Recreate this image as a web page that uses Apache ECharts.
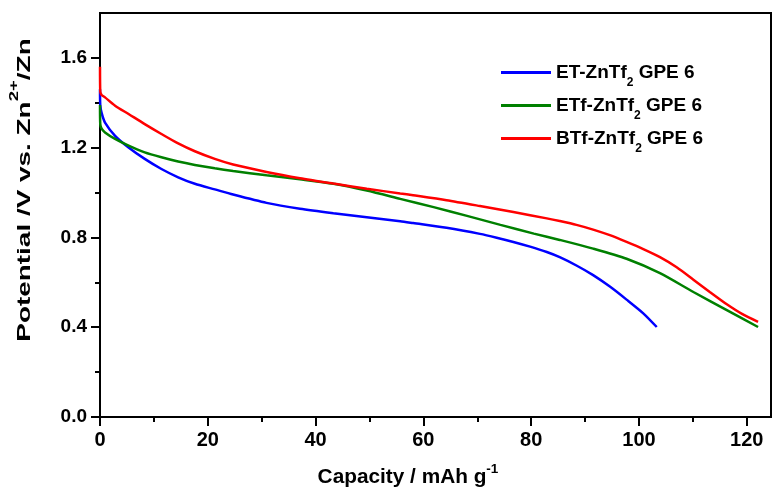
<!DOCTYPE html>
<html><head><meta charset="utf-8">
<script src="https://cdn.jsdelivr.net/npm/echarts@6/dist/echarts.min.js"></script>
<style>html,body{margin:0;padding:0;background:#fff}#c{width:780px;height:498px}</style>
</head><body><div id="c"></div>
<script>
// ---- data ----
const xMajorTicks = [0, 20, 40, 60, 80, 100, 120];
const xMinorTicks = [10, 30, 50, 70, 90, 110];
const yMajorTicks = [0, 0.4, 0.8, 1.2, 1.6];
const yMinorTicks = [0.2, 0.6, 1.0, 1.4];

const seriesNames = ['ET-ZnTf2 GPE 6', 'ETf-ZnTf2 GPE 6', 'BTf-ZnTf2 GPE 6'];
const seriesColors = ['#0000ff', '#008000', '#ff0000'];

const capET = [0, 0.05, 0.3, 0.93, 2.8, 5.3, 8.3, 11.4, 14.5, 17.6, 21.3, 24.7, 30.9, 37.1, 43.3, 49.5, 55.7, 58.1, 64.3, 70.5, 73.6, 76.7, 79.8, 82.9, 85.3, 88.4, 91.5, 94.6, 97.7, 100.8, 103.3];
const vET   = [1.46, 1.39, 1.355, 1.312, 1.253, 1.201, 1.15, 1.105, 1.068, 1.039, 1.014, 0.991, 0.954, 0.928, 0.908, 0.89, 0.872, 0.864, 0.843, 0.816, 0.799, 0.780, 0.759, 0.735, 0.712, 0.675, 0.632, 0.581, 0.523, 0.462, 0.401];

const capETf = [0, 0.05, 0.3, 0.93, 2.8, 5.3, 8.3, 11.4, 14.5, 17.6, 21.3, 24.7, 30.9, 37.1, 43.3, 49.5, 55.7, 61.9, 68.1, 74.3, 80.5, 85.3, 91.5, 97.7, 103.9, 110.1, 116.3, 122.1];
const vETf   = [1.39, 1.305, 1.285, 1.268, 1.239, 1.209, 1.179, 1.157, 1.138, 1.123, 1.108, 1.096, 1.077, 1.059, 1.039, 1.009, 0.972, 0.935, 0.896, 0.856, 0.817, 0.789, 0.750, 0.705, 0.641, 0.557, 0.476, 0.401];

const capBTf = [0, 0.05, 0.3, 0.93, 2.8, 5.3, 8.3, 11.4, 14.5, 17.6, 21.3, 24.7, 30.9, 37.1, 43.3, 49.5, 55.7, 58.1, 64.3, 70.5, 76.7, 82.9, 85.3, 88.4, 91.5, 94.6, 97.7, 100.8, 103.9, 107, 110.1, 113.2, 116.3, 119.2, 122.1];
const vBTf   = [1.56, 1.45, 1.435, 1.424, 1.387, 1.35, 1.305, 1.261, 1.219, 1.184, 1.15, 1.125, 1.092, 1.064, 1.04, 1.017, 0.996, 0.988, 0.966, 0.940, 0.913, 0.885, 0.873, 0.856, 0.835, 0.81, 0.78, 0.748, 0.712, 0.667, 0.612, 0.556, 0.502, 0.458, 0.424];

const caps = [capET, capETf, capBTf];
const volts = [vET, vETf, vBTf];

// ---- chart ----
const FONT = '"Liberation Sans", Arial, sans-serif';
const chart = echarts.init(document.getElementById('c'), null, {renderer: 'canvas'});

const series = seriesNames.map((n, i) => ({
  name: n,
  type: 'line',
  xAxisIndex: 0, yAxisIndex: 0,
  symbol: 'none',
  smooth: 0.25,
  color: seriesColors[i],
  lineStyle: {width: 2.5, color: seriesColors[i]},
  data: caps[i].map((c, k) => [c, volts[i][k]])
}));

function axisCommon(extra) {
  return Object.assign({type: 'value', splitLine: {show: false}}, extra);
}

const option = {
  animation: false,
  backgroundColor: '#fff',
  grid: {left: 100, right: 9, top: 13, bottom: 81, show: true, borderColor: '#000', borderWidth: 2, backgroundColor: 'transparent'},
  xAxis: [
    axisCommon({min: 0, max: 124.5, position: 'bottom',
      axisLine: {show: true, lineStyle: {color: '#000', width: 2}},
      axisTick: {show: true, customValues: xMajorTicks, length: 9, lineStyle: {color: '#000', width: 2}},
      axisLabel: {customValues: xMajorTicks, margin: 13, color: '#000', fontSize: 20, fontWeight: 'bold', fontFamily: FONT}
    }),
    axisCommon({min: 0, max: 124.5, position: 'bottom',
      axisLine: {show: false},
      axisTick: {show: true, customValues: xMinorTicks, length: 5, lineStyle: {color: '#000', width: 2}},
      axisLabel: {show: false}
    })
  ],
  yAxis: [
    axisCommon({min: 0, max: 1.8, position: 'left',
      axisLine: {show: true, lineStyle: {color: '#000', width: 2}},
      axisTick: {show: true, customValues: yMajorTicks, length: 9, lineStyle: {color: '#000', width: 2}},
      axisLabel: {customValues: yMajorTicks, margin: 13, color: '#000', fontSize: 19, fontWeight: 'bold', fontFamily: FONT,
        formatter: v => v.toFixed(1)}
    }),
    axisCommon({min: 0, max: 1.8, position: 'left',
      axisLine: {show: false},
      axisTick: {show: true, customValues: yMinorTicks, length: 5, lineStyle: {color: '#000', width: 2}},
      axisLabel: {show: false}
    })
  ],
  legend: {
    orient: 'vertical', left: 496, top: 58,
    icon: 'rect', itemWidth: 50, itemHeight: 3, itemGap: 7.5,
    data: seriesNames,
    formatter: name => {
      const parts = name.split('2 ');
      return '{a|' + parts[0] + '}{s|2}{a| ' + parts[1] + '}';
    },
    textStyle: {
      color: '#000', fontSize: 19, fontWeight: 'bold', fontFamily: FONT,
      rich: {
        a: {color: '#000', fontSize: 19, fontWeight: 'bold', fontFamily: FONT, verticalAlign: 'middle'},
        s: {color: '#000', fontSize: 12, fontWeight: 'bold', fontFamily: FONT, padding: [20, 0, 0, 0], verticalAlign: 'bottom'}
      }
    }
  },
  graphic: [
    {
      type: 'text', x: 21.5, y: 190, rotation: Math.PI / 2, scaleX: 1.55, scaleY: 1,
      style: {
        text: '{a|Potential /V vs. Zn}{b|2+}{a|/Zn}',
        textAlign: 'center', textVerticalAlign: 'middle', align: 'center', verticalAlign: 'middle',
        fill: '#000',
        rich: {
          a: {fill: '#000', fontSize: 18, fontWeight: 'bold', fontFamily: FONT, verticalAlign: 'bottom'},
          b: {fill: '#000', fontSize: 12, fontWeight: 'bold', fontFamily: FONT, padding: [0, 0, 13, 0], verticalAlign: 'top'}
        }
      }
    },
    {
      type: 'text', x: 408, y: 475, scaleX: 1.04,
      style: {
        text: '{a|Capacity / mAh g}{b|-1}',
        textAlign: 'center', textVerticalAlign: 'middle', align: 'center', verticalAlign: 'middle',
        fill: '#000',
        rich: {
          a: {fill: '#000', fontSize: 20, fontWeight: 'bold', fontFamily: FONT, verticalAlign: 'bottom'},
          b: {fill: '#000', fontSize: 13, fontWeight: 'bold', fontFamily: FONT, padding: [0, 0, 11, 0], verticalAlign: 'top'}
        }
      }
    }
  ],
  series: series
};
chart.setOption(option);
</script>
</body></html>
